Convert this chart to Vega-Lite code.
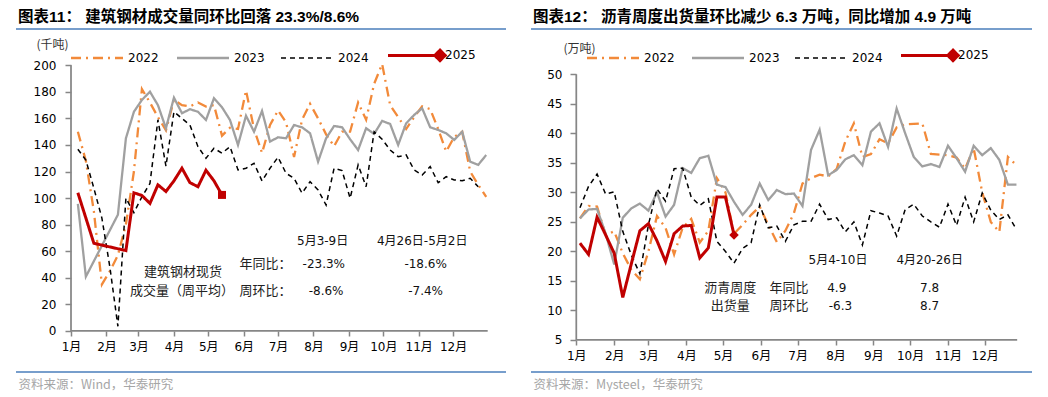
{
  "$schema": "https://vega.github.io/schema/vega-lite/v6.json",
  "background": "white",
  "padding": {"left": 15, "top": 9, "right": 0, "bottom": 0},
  "spacing": 23,
  "resolve": {"scale": {"color": "independent", "strokeDash": "independent"}, "legend": {"color": "independent", "strokeDash": "independent"}},
  "config": {"view": {"stroke": null}, "axis": {"grid": false, "labelOverlap": false}, "axisY": {"labelOverlap": false}, "axisQuantitative": {"labelOverlap": false}, "font": "DejaVu Sans"},
  "datasets": {
    "steel": [
      {"series":"2022","date":"2025-01-07","value":150},{"series":"2022","date":"2025-01-14","value":128},{"series":"2022","date":"2025-01-21","value":90},{"series":"2022","date":"2025-01-28","value":35},{"series":"2022","date":"2025-02-04","value":45},{"series":"2022","date":"2025-02-11","value":57},{"series":"2022","date":"2025-02-18","value":80},{"series":"2022","date":"2025-02-25","value":120},{"series":"2022","date":"2025-03-04","value":182},{"series":"2022","date":"2025-03-11","value":172},{"series":"2022","date":"2025-03-18","value":161},{"series":"2022","date":"2025-03-25","value":151},{"series":"2022","date":"2025-04-01","value":174},{"series":"2022","date":"2025-04-08","value":170},{"series":"2022","date":"2025-04-15","value":169},{"series":"2022","date":"2025-04-22","value":172},{"series":"2022","date":"2025-04-29","value":169},{"series":"2022","date":"2025-05-06","value":170},{"series":"2022","date":"2025-05-13","value":147},{"series":"2022","date":"2025-05-20","value":153},{"series":"2022","date":"2025-05-27","value":152},{"series":"2022","date":"2025-06-03","value":181},{"series":"2022","date":"2025-06-10","value":152},{"series":"2022","date":"2025-06-17","value":134},{"series":"2022","date":"2025-06-24","value":155},{"series":"2022","date":"2025-07-01","value":166},{"series":"2022","date":"2025-07-08","value":157},{"series":"2022","date":"2025-07-15","value":131},{"series":"2022","date":"2025-07-22","value":159},{"series":"2022","date":"2025-07-29","value":171},{"series":"2022","date":"2025-08-05","value":160},{"series":"2022","date":"2025-08-12","value":148},{"series":"2022","date":"2025-08-19","value":139},{"series":"2022","date":"2025-08-26","value":150},{"series":"2022","date":"2025-09-02","value":150},{"series":"2022","date":"2025-09-09","value":172},{"series":"2022","date":"2025-09-16","value":159},{"series":"2022","date":"2025-09-23","value":186},{"series":"2022","date":"2025-09-30","value":201},{"series":"2022","date":"2025-10-07","value":170},{"series":"2022","date":"2025-10-14","value":161},{"series":"2022","date":"2025-10-21","value":152},{"series":"2022","date":"2025-10-28","value":161},{"series":"2022","date":"2025-11-04","value":169},{"series":"2022","date":"2025-11-11","value":167},{"series":"2022","date":"2025-11-18","value":152},{"series":"2022","date":"2025-11-25","value":135},{"series":"2022","date":"2025-12-02","value":146},{"series":"2022","date":"2025-12-09","value":150},{"series":"2022","date":"2025-12-16","value":120},{"series":"2022","date":"2025-12-23","value":110},{"series":"2022","date":"2025-12-30","value":101},
      {"series":"2023","date":"2025-01-07","value":95.6},{"series":"2023","date":"2025-01-14","value":40.9},{"series":"2023","date":"2025-02-11","value":87.5},{"series":"2023","date":"2025-02-18","value":145},{"series":"2023","date":"2025-02-25","value":165},{"series":"2023","date":"2025-03-04","value":173.9},{"series":"2023","date":"2025-03-11","value":180.1},{"series":"2023","date":"2025-03-18","value":170},{"series":"2023","date":"2025-03-25","value":152.6},{"series":"2023","date":"2025-04-01","value":175.6},{"series":"2023","date":"2025-04-08","value":163.9},{"series":"2023","date":"2025-04-15","value":166.9},{"series":"2023","date":"2025-04-22","value":165},{"series":"2023","date":"2025-04-29","value":158.8},{"series":"2023","date":"2025-05-06","value":175.2},{"series":"2023","date":"2025-05-13","value":168.4},{"series":"2023","date":"2025-05-20","value":158.8},{"series":"2023","date":"2025-05-27","value":140},{"series":"2023","date":"2025-06-03","value":162},{"series":"2023","date":"2025-06-10","value":150},{"series":"2023","date":"2025-06-17","value":165.6},{"series":"2023","date":"2025-06-24","value":142.5},{"series":"2023","date":"2025-07-01","value":145.8},{"series":"2023","date":"2025-07-08","value":145},{"series":"2023","date":"2025-07-15","value":155},{"series":"2023","date":"2025-07-22","value":153.3},{"series":"2023","date":"2025-07-29","value":148.8},{"series":"2023","date":"2025-08-05","value":127.4},{"series":"2023","date":"2025-08-12","value":145},{"series":"2023","date":"2025-08-19","value":154.3},{"series":"2023","date":"2025-08-26","value":153.3},{"series":"2023","date":"2025-09-02","value":144.3},{"series":"2023","date":"2025-09-09","value":136.2},{"series":"2023","date":"2025-09-16","value":152.6},{"series":"2023","date":"2025-09-23","value":148.3},{"series":"2023","date":"2025-09-30","value":158.1},{"series":"2023","date":"2025-10-07","value":155.8},{"series":"2023","date":"2025-10-14","value":140},{"series":"2023","date":"2025-10-21","value":156.3},{"series":"2023","date":"2025-10-28","value":162.6},{"series":"2023","date":"2025-11-04","value":167.6},{"series":"2023","date":"2025-11-11","value":153.3},{"series":"2023","date":"2025-11-18","value":151.3},{"series":"2023","date":"2025-11-25","value":148.8},{"series":"2023","date":"2025-12-02","value":143.8},{"series":"2023","date":"2025-12-09","value":150},{"series":"2023","date":"2025-12-16","value":127.4},{"series":"2023","date":"2025-12-23","value":125},{"series":"2023","date":"2025-12-30","value":132.5},
      {"series":"2024","date":"2025-01-07","value":136.8},{"series":"2024","date":"2025-01-14","value":128.7},{"series":"2024","date":"2025-01-21","value":107.4},{"series":"2024","date":"2025-01-28","value":85},{"series":"2024","date":"2025-02-04","value":48},{"series":"2024","date":"2025-02-11","value":3.5},{"series":"2024","date":"2025-02-18","value":100},{"series":"2024","date":"2025-02-25","value":89},{"series":"2024","date":"2025-03-04","value":101},{"series":"2024","date":"2025-03-11","value":111},{"series":"2024","date":"2025-03-18","value":159},{"series":"2024","date":"2025-03-25","value":124},{"series":"2024","date":"2025-04-01","value":165},{"series":"2024","date":"2025-04-08","value":160},{"series":"2024","date":"2025-04-15","value":155},{"series":"2024","date":"2025-04-22","value":138.7},{"series":"2024","date":"2025-04-29","value":130},{"series":"2024","date":"2025-05-06","value":137.5},{"series":"2024","date":"2025-05-13","value":133.8},{"series":"2024","date":"2025-05-20","value":138.7},{"series":"2024","date":"2025-05-27","value":121.2},{"series":"2024","date":"2025-06-03","value":122.5},{"series":"2024","date":"2025-06-10","value":126.2},{"series":"2024","date":"2025-06-17","value":112.9},{"series":"2024","date":"2025-06-24","value":122.5},{"series":"2024","date":"2025-07-01","value":130.8},{"series":"2024","date":"2025-07-08","value":118.7},{"series":"2024","date":"2025-07-15","value":114.9},{"series":"2024","date":"2025-07-22","value":103.7},{"series":"2024","date":"2025-07-29","value":112.4},{"series":"2024","date":"2025-08-05","value":106.1},{"series":"2024","date":"2025-08-12","value":94.8},{"series":"2024","date":"2025-08-19","value":122.5},{"series":"2024","date":"2025-08-26","value":120.7},{"series":"2024","date":"2025-09-02","value":99.9},{"series":"2024","date":"2025-09-09","value":125},{"series":"2024","date":"2025-09-16","value":108.6},{"series":"2024","date":"2025-09-23","value":150},{"series":"2024","date":"2025-09-30","value":144.3},{"series":"2024","date":"2025-10-07","value":136.2},{"series":"2024","date":"2025-10-14","value":131.2},{"series":"2024","date":"2025-10-21","value":132.5},{"series":"2024","date":"2025-10-28","value":121.2},{"series":"2024","date":"2025-11-04","value":117.4},{"series":"2024","date":"2025-11-11","value":123.7},{"series":"2024","date":"2025-11-18","value":111.6},{"series":"2024","date":"2025-11-25","value":116.1},{"series":"2024","date":"2025-12-02","value":113.7},{"series":"2024","date":"2025-12-09","value":113.1},{"series":"2024","date":"2025-12-16","value":114.9},{"series":"2024","date":"2025-12-23","value":108.6},
      {"series":"2025","date":"2025-01-07","value":104},{"series":"2025","date":"2025-01-21","value":66},{"series":"2025","date":"2025-02-18","value":60.5},{"series":"2025","date":"2025-02-25","value":104},{"series":"2025","date":"2025-03-04","value":102},{"series":"2025","date":"2025-03-11","value":96},{"series":"2025","date":"2025-03-18","value":110},{"series":"2025","date":"2025-03-25","value":105},{"series":"2025","date":"2025-04-01","value":113},{"series":"2025","date":"2025-04-08","value":122.5},{"series":"2025","date":"2025-04-15","value":111.6},{"series":"2025","date":"2025-04-22","value":108.6},{"series":"2025","date":"2025-04-29","value":121},{"series":"2025","date":"2025-05-06","value":113},{"series":"2025","date":"2025-05-13","value":102.4}
    ],
    "asphalt": [
      {"series":"2022","date":"2025-01-04","value":25.6},{"series":"2022","date":"2025-01-11","value":27.7},{"series":"2022","date":"2025-01-18","value":27.6},{"series":"2022","date":"2025-01-25","value":22.8},{"series":"2022","date":"2025-02-01","value":23.4},{"series":"2022","date":"2025-02-08","value":19.7},{"series":"2022","date":"2025-02-15","value":16.9},{"series":"2022","date":"2025-02-22","value":15.3},{"series":"2022","date":"2025-03-01","value":20},{"series":"2022","date":"2025-03-08","value":26},{"series":"2022","date":"2025-03-15","value":24},{"series":"2022","date":"2025-03-22","value":19.5},{"series":"2022","date":"2025-03-29","value":24},{"series":"2022","date":"2025-04-05","value":25.5},{"series":"2022","date":"2025-04-12","value":21.5},{"series":"2022","date":"2025-04-19","value":23.5},{"series":"2022","date":"2025-04-26","value":32.4},{"series":"2022","date":"2025-05-03","value":30},{"series":"2022","date":"2025-05-10","value":23},{"series":"2022","date":"2025-05-17","value":24.5},{"series":"2022","date":"2025-05-24","value":26.2},{"series":"2022","date":"2025-05-31","value":27.6},{"series":"2022","date":"2025-06-07","value":24.5},{"series":"2022","date":"2025-06-14","value":21.6},{"series":"2022","date":"2025-06-21","value":23.5},{"series":"2022","date":"2025-06-28","value":26.5},{"series":"2022","date":"2025-07-05","value":31.5},{"series":"2022","date":"2025-07-12","value":32.4},{"series":"2022","date":"2025-07-19","value":33},{"series":"2022","date":"2025-07-26","value":32.7},{"series":"2022","date":"2025-08-02","value":34},{"series":"2022","date":"2025-08-09","value":38.6},{"series":"2022","date":"2025-08-16","value":41.7},{"series":"2022","date":"2025-08-23","value":36},{"series":"2022","date":"2025-08-30","value":36.5},{"series":"2022","date":"2025-09-06","value":39},{"series":"2022","date":"2025-09-13","value":38.3},{"series":"2022","date":"2025-09-20","value":41},{"series":"2022","date":"2025-09-27","value":41.5},{"series":"2022","date":"2025-10-04","value":41.6},{"series":"2022","date":"2025-10-11","value":41.7},{"series":"2022","date":"2025-10-18","value":36.5},{"series":"2022","date":"2025-10-25","value":36.4},{"series":"2022","date":"2025-11-01","value":36.3},{"series":"2022","date":"2025-11-08","value":35.9},{"series":"2022","date":"2025-11-15","value":34},{"series":"2022","date":"2025-11-22","value":37.5},{"series":"2022","date":"2025-11-29","value":30},{"series":"2022","date":"2025-12-06","value":25},{"series":"2022","date":"2025-12-13","value":23.3},{"series":"2022","date":"2025-12-20","value":36},{"series":"2022","date":"2025-12-27","value":34.6},
      {"series":"2023","date":"2025-01-04","value":25.6},{"series":"2023","date":"2025-01-11","value":27.1},{"series":"2023","date":"2025-01-18","value":27.2},{"series":"2023","date":"2025-01-25","value":23},{"series":"2023","date":"2025-02-01","value":17.8},{"series":"2023","date":"2025-02-08","value":25.7},{"series":"2023","date":"2025-02-15","value":27.3},{"series":"2023","date":"2025-02-22","value":28.1},{"series":"2023","date":"2025-03-01","value":26.9},{"series":"2023","date":"2025-03-08","value":30},{"series":"2023","date":"2025-03-15","value":25.9},{"series":"2023","date":"2025-03-22","value":27.9},{"series":"2023","date":"2025-03-29","value":34.1},{"series":"2023","date":"2025-04-05","value":33.3},{"series":"2023","date":"2025-04-12","value":35.8},{"series":"2023","date":"2025-04-19","value":36.2},{"series":"2023","date":"2025-04-26","value":31.3},{"series":"2023","date":"2025-05-03","value":30.9},{"series":"2023","date":"2025-05-10","value":28.4},{"series":"2023","date":"2025-05-17","value":26.2},{"series":"2023","date":"2025-05-24","value":27.9},{"series":"2023","date":"2025-05-31","value":31.5},{"series":"2023","date":"2025-06-07","value":28.7},{"series":"2023","date":"2025-06-14","value":30.4},{"series":"2023","date":"2025-06-21","value":29.7},{"series":"2023","date":"2025-06-28","value":29.8},{"series":"2023","date":"2025-07-05","value":27.7},{"series":"2023","date":"2025-07-12","value":37.2},{"series":"2023","date":"2025-07-19","value":40.6},{"series":"2023","date":"2025-07-26","value":32.9},{"series":"2023","date":"2025-08-02","value":33.8},{"series":"2023","date":"2025-08-09","value":35.6},{"series":"2023","date":"2025-08-16","value":36.3},{"series":"2023","date":"2025-08-23","value":34.6},{"series":"2023","date":"2025-08-30","value":40.3},{"series":"2023","date":"2025-09-06","value":41.7},{"series":"2023","date":"2025-09-13","value":37.7},{"series":"2023","date":"2025-09-20","value":44.2},{"series":"2023","date":"2025-09-27","value":40},{"series":"2023","date":"2025-10-04","value":36},{"series":"2023","date":"2025-10-11","value":34.4},{"series":"2023","date":"2025-10-18","value":34.8},{"series":"2023","date":"2025-10-25","value":34.3},{"series":"2023","date":"2025-11-01","value":37.9},{"series":"2023","date":"2025-11-08","value":35.8},{"series":"2023","date":"2025-11-15","value":33.5},{"series":"2023","date":"2025-11-22","value":37.9},{"series":"2023","date":"2025-11-29","value":36.3},{"series":"2023","date":"2025-12-06","value":37.5},{"series":"2023","date":"2025-12-13","value":35.5},{"series":"2023","date":"2025-12-20","value":31.3},{"series":"2023","date":"2025-12-27","value":31.3},
      {"series":"2024","date":"2025-01-04","value":27.4},{"series":"2024","date":"2025-01-11","value":31},{"series":"2024","date":"2025-01-18","value":33.1},{"series":"2024","date":"2025-01-25","value":29.7},{"series":"2024","date":"2025-02-01","value":30.1},{"series":"2024","date":"2025-02-08","value":23.4},{"series":"2024","date":"2025-02-15","value":19.4},{"series":"2024","date":"2025-02-22","value":16.2},{"series":"2024","date":"2025-03-01","value":24.5},{"series":"2024","date":"2025-03-08","value":30.6},{"series":"2024","date":"2025-03-15","value":28.5},{"series":"2024","date":"2025-03-22","value":34},{"series":"2024","date":"2025-03-29","value":34.1},{"series":"2024","date":"2025-04-05","value":29.2},{"series":"2024","date":"2025-04-12","value":27.8},{"series":"2024","date":"2025-04-19","value":28.9},{"series":"2024","date":"2025-04-26","value":21.7},{"series":"2024","date":"2025-05-03","value":20},{"series":"2024","date":"2025-05-10","value":18},{"series":"2024","date":"2025-05-17","value":20.5},{"series":"2024","date":"2025-05-24","value":21.5},{"series":"2024","date":"2025-05-31","value":27.9},{"series":"2024","date":"2025-06-07","value":24},{"series":"2024","date":"2025-06-14","value":24.3},{"series":"2024","date":"2025-06-21","value":21.7},{"series":"2024","date":"2025-06-28","value":24.5},{"series":"2024","date":"2025-07-05","value":25.1},{"series":"2024","date":"2025-07-12","value":25.1},{"series":"2024","date":"2025-07-19","value":28},{"series":"2024","date":"2025-07-26","value":25.4},{"series":"2024","date":"2025-08-02","value":25.7},{"series":"2024","date":"2025-08-09","value":23.3},{"series":"2024","date":"2025-08-16","value":25},{"series":"2024","date":"2025-08-23","value":21.1},{"series":"2024","date":"2025-08-30","value":26.9},{"series":"2024","date":"2025-09-06","value":26.5},{"series":"2024","date":"2025-09-13","value":26},{"series":"2024","date":"2025-09-20","value":22.6},{"series":"2024","date":"2025-09-27","value":27.1},{"series":"2024","date":"2025-10-04","value":28},{"series":"2024","date":"2025-10-11","value":26},{"series":"2024","date":"2025-10-18","value":25},{"series":"2024","date":"2025-10-25","value":24.1},{"series":"2024","date":"2025-11-01","value":28},{"series":"2024","date":"2025-11-08","value":24.4},{"series":"2024","date":"2025-11-15","value":29.2},{"series":"2024","date":"2025-11-22","value":25},{"series":"2024","date":"2025-11-29","value":29.9},{"series":"2024","date":"2025-12-06","value":27},{"series":"2024","date":"2025-12-13","value":25.4},{"series":"2024","date":"2025-12-20","value":26.2},{"series":"2024","date":"2025-12-27","value":23.7},
      {"series":"2025","date":"2025-01-04","value":21.4},{"series":"2025","date":"2025-01-11","value":19.5},{"series":"2025","date":"2025-01-18","value":25.8},{"series":"2025","date":"2025-01-25","value":22.8},{"series":"2025","date":"2025-02-01","value":19.7},{"series":"2025","date":"2025-02-08","value":12.2},{"series":"2025","date":"2025-02-15","value":17.9},{"series":"2025","date":"2025-02-22","value":23.5},{"series":"2025","date":"2025-03-01","value":24.7},{"series":"2025","date":"2025-03-08","value":21.8},{"series":"2025","date":"2025-03-15","value":18.3},{"series":"2025","date":"2025-03-22","value":23},{"series":"2025","date":"2025-03-29","value":24.3},{"series":"2025","date":"2025-04-05","value":24.4},{"series":"2025","date":"2025-04-12","value":18.9},{"series":"2025","date":"2025-04-19","value":20.6},{"series":"2025","date":"2025-04-26","value":29.2},{"series":"2025","date":"2025-05-03","value":29.2},{"series":"2025","date":"2025-05-10","value":22.8}
    ]
  },
  "hconcat": [
    {
      "width": 490,
      "height": 343,
      "title": {"text": "图表11：  建筑钢材成交量同环比回落 23.3%/8.6%", "anchor": "start", "frame": "group", "dx": 2, "offset": -4, "baseline": "middle", "font": "Liberation Sans, Noto Sans CJK SC", "fontSize": 15.5, "fontWeight": "bold", "color": "#000000"},
      "layer": [
        {
          "data": {"name": "steel"},
          "mark": {"type": "line"},
          "encoding": {
            "x": {
              "field": "date", "type": "temporal",
              "scale": {"type": "utc", "domain": [{"year": 2024, "month": 11, "date": 13, "hours": 22, "utc": true}, {"year": 2026, "month": 1, "date": 16, "hours": 7, "utc": true}], "nice": false},
              "axis": {
                "values": [{"year":2025,"month":1,"date":1,"utc":true},{"year":2025,"month":2,"date":1,"utc":true},{"year":2025,"month":3,"date":1,"utc":true},{"year":2025,"month":4,"date":1,"utc":true},{"year":2025,"month":5,"date":1,"utc":true},{"year":2025,"month":6,"date":1,"utc":true},{"year":2025,"month":7,"date":1,"utc":true},{"year":2025,"month":8,"date":1,"utc":true},{"year":2025,"month":9,"date":1,"utc":true},{"year":2025,"month":10,"date":1,"utc":true},{"year":2025,"month":11,"date":1,"utc":true},{"year":2025,"month":12,"date":1,"utc":true}],
                "format": "%-m月", "offset": -41, "domain": false, "grid": false,
                "tickSize": 5, "tickColor": "#868686", "tickWidth": 1.5,
                "labelFont": "DejaVu Sans, Noto Sans CJK SC", "labelFontSize": 12, "labelColor": "#000000", "labelPadding": 5, "labelFlush": false, "labelOverlap": false,
                "title": "资料来源：Wind，华泰研究", "titleX": 2, "titleY": 53, "titleAlign": "left", "titleBaseline": "middle", "titleAngle": 0,
                "titleFont": "Noto Sans CJK SC", "titleFontSize": 12.5, "titleFontWeight": "normal", "titleColor": "#A6A6A6"
              }
            },
            "y": {
              "field": "value", "type": "quantitative",
              "scale": {"domain": [-30.9, 227.3], "nice": false, "zero": false},
              "axis": {
                "values": [0, 20, 40, 60, 80, 100, 120, 140, 160, 180, 200], "tickCount": 11,
                "offset": -55, "domain": false, "grid": false,
                "tickSize": 6, "tickColor": "#868686", "tickWidth": 1.5,
                "labelFont": "DejaVu Sans", "labelFontSize": 12, "labelColor": "#000000", "labelPadding": 9, "labelOverlap": false, "labelFlush": false,
                "title": "(千吨)", "titleAngle": 0, "titleX": -35, "titleY": 15, "titleAlign": "left", "titleBaseline": "middle",
                "titleFont": "Noto Sans CJK SC", "titleFontSize": 12, "titleFontWeight": "normal", "titleColor": "#333333"
              }
            },
            "color": {
              "field": "series", "type": "nominal",
              "scale": {"domain": ["2022", "2023", "2024", "2025"], "range": ["#F28A3A", "#A0A0A0", "#000000", "#C00000"]},
              "legend": {
                "orient": "none", "legendX": 75, "legendY": 20, "direction": "horizontal", "columns": 4, "title": null,
                "symbolSize": 2704, "labelOffset": 25, "columnPadding": 13, "padding": 0,
                "labelFont": "DejaVu Sans", "labelFontSize": 12, "labelColor": "#000000",
                "encode": {"symbols": {"update": {
                  "shape": {"signal": "datum.value === '2025' ? 'M-1,0H1M1,-0.2L1.2,0L1,0.2L0.8,0Z' : 'M-1,0H1'"},
                  "fill": {"signal": "datum.value === '2025' ? '#C00000' : 'transparent'"},
                  "strokeDash": {"signal": "datum.value === '2022' ? [10,5,2,5] : datum.value === '2024' ? [5,4] : [1,0]"},
                  "strokeWidth": {"signal": "datum.value === '2024' ? 1.5 : datum.value === '2025' ? 3 : 2.5"}
                }}}
              }
            },
            "strokeDash": {
              "field": "series", "type": "nominal",
              "scale": {"domain": ["2022", "2023", "2024", "2025"], "range": [[10, 5, 2, 5], [1, 0], [5, 4], [1, 0]]},
              "legend": null
            },
            "strokeWidth": {"condition": [{"test": "datum.series === '2025'", "value": 3}, {"test": "datum.series === '2024'", "value": 1.5}], "value": 2.3}
          }
        },
        {
          "data": {"values": [{}]},
          "mark": {"type": "rule", "color": "#4A7EBB", "strokeWidth": 1.5},
          "encoding": {
            "x": {"datum": {"year": 2024, "month": 11, "date": 13, "hours": 22, "utc": true}, "type": "temporal"},
            "x2": {"datum": {"year": 2026, "month": 1, "date": 16, "hours": 7, "utc": true}},
            "y": {"datum": 227.3, "type": "quantitative"}
          }
        },
        {
          "data": {"values": [{}]},
          "mark": {"type": "rule", "color": "#4A7EBB", "strokeWidth": 1.5},
          "encoding": {
            "x": {"datum": {"year": 2024, "month": 11, "date": 13, "hours": 22, "utc": true}, "type": "temporal"},
            "x2": {"datum": {"year": 2026, "month": 1, "date": 16, "hours": 7, "utc": true}},
            "y": {"datum": -30.9, "type": "quantitative"}
          }
        },
        {
          "data": {"values": [{}]},
          "mark": {"type": "rule", "color": "#868686", "strokeWidth": 1.75},
          "encoding": {
            "x": {"datum": {"year": 2025, "month": 1, "date": 1, "utc": true}, "type": "temporal"},
            "y": {"datum": 0, "type": "quantitative"},
            "y2": {"datum": 200}
          }
        },
        {
          "data": {"values": [{}]},
          "mark": {"type": "rule", "color": "#868686", "strokeWidth": 1.75},
          "encoding": {
            "x": {"datum": {"year": 2025, "month": 1, "date": 1, "utc": true}, "type": "temporal"},
            "x2": {"datum": {"year": 2025, "month": 12, "date": 31, "hours": 7, "utc": true}},
            "y": {"datum": 0, "type": "quantitative"}
          }
        },
        {
          "data": {"name": "steel"},
          "transform": [
            {"filter": "datum.series === '2025'"},
            {"window": [{"op": "row_number", "as": "rn"}], "sort": [{"field": "date", "order": "descending"}]},
            {"filter": "datum.rn === 1"}
          ],
          "mark": {"type": "point", "shape": "square", "filled": true, "size": 64, "color": "#C00000", "opacity": 1},
          "encoding": {
            "x": {"field": "date", "type": "temporal"},
            "y": {"field": "value", "type": "quantitative"}
          }
        },
        {
          "data": {"values": [
            {"label": "建筑钢材现货", "date": "2025-04-09", "value": 44.6},
            {"label": "成交量（周平均）", "date": "2025-04-08", "value": 30.3},
            {"label": "年同比：", "date": "2025-06-20", "value": 50.4},
            {"label": "周环比：", "date": "2025-06-20", "value": 30.3}
          ]},
          "mark": {"type": "text", "align": "center", "baseline": "middle", "font": "Noto Sans CJK SC", "fontSize": 13, "color": "#222222"},
          "encoding": {
            "x": {"field": "date", "type": "temporal"},
            "y": {"field": "value", "type": "quantitative"},
            "text": {"field": "label"}
          }
        },
        {
          "data": {"values": [
            {"label": "5月3-9日", "date": "2025-08-09", "value": 68},
            {"label": "4月26日-5月2日", "date": "2025-11-04", "value": 68},
            {"label": "-23.3%", "date": "2025-08-10", "value": 50.4},
            {"label": "-8.6%", "date": "2025-08-12", "value": 30.1},
            {"label": "-18.6%", "date": "2025-11-07", "value": 50.4},
            {"label": "-7.4%", "date": "2025-11-07", "value": 30.1}
          ]},
          "mark": {"type": "text", "align": "center", "baseline": "middle", "font": "DejaVu Sans, Noto Sans CJK SC", "fontSize": 12, "color": "#111111"},
          "encoding": {
            "x": {"field": "date", "type": "temporal"},
            "y": {"field": "value", "type": "quantitative"},
            "text": {"field": "label"}
          }
        }
      ]
    },
    {
      "width": 501,
      "height": 343,
      "title": {"text": "图表12：  沥青周度出货量环比减少 6.3 万吨，同比增加 4.9 万吨", "anchor": "start", "frame": "group", "dx": 2, "offset": -4, "baseline": "middle", "font": "Liberation Sans, Noto Sans CJK SC", "fontSize": 15.5, "fontWeight": "bold", "color": "#000000"},
      "layer": [
        {
          "data": {"name": "asphalt"},
          "mark": {"type": "line"},
          "encoding": {
            "x": {
              "field": "date", "type": "temporal",
              "scale": {"type": "utc", "domain": [{"year": 2024, "month": 11, "date": 24, "hours": 23, "utc": true}, {"year": 2026, "month": 1, "date": 8, "hours": 17, "utc": true}], "nice": false},
              "axis": {
                "values": [{"year":2025,"month":1,"date":1,"utc":true},{"year":2025,"month":2,"date":1,"utc":true},{"year":2025,"month":3,"date":1,"utc":true},{"year":2025,"month":4,"date":1,"utc":true},{"year":2025,"month":5,"date":1,"utc":true},{"year":2025,"month":6,"date":1,"utc":true},{"year":2025,"month":7,"date":1,"utc":true},{"year":2025,"month":8,"date":1,"utc":true},{"year":2025,"month":9,"date":1,"utc":true},{"year":2025,"month":10,"date":1,"utc":true},{"year":2025,"month":11,"date":1,"utc":true},{"year":2025,"month":12,"date":1,"utc":true}],
                "format": "%-m月", "offset": -32, "domain": false, "grid": false,
                "tickSize": 5, "tickColor": "#868686", "tickWidth": 1.5,
                "labelFont": "DejaVu Sans, Noto Sans CJK SC", "labelFontSize": 12, "labelColor": "#000000", "labelPadding": 5, "labelFlush": false, "labelOverlap": false,
                "title": "资料来源：Mysteel，华泰研究", "titleX": 2, "titleY": 44, "titleAlign": "left", "titleBaseline": "middle", "titleAngle": 0,
                "titleFont": "Noto Sans CJK SC", "titleFontSize": 12.5, "titleFontWeight": "normal", "titleColor": "#A6A6A6"
              }
            },
            "y": {
              "field": "value", "type": "quantitative",
              "scale": {"domain": [-0.42, 57.67], "nice": false, "zero": false},
              "axis": {
                "values": [5, 10, 15, 20, 25, 30, 35, 40, 45, 50], "tickCount": 10,
                "offset": -45, "domain": false, "grid": false,
                "tickSize": 6, "tickColor": "#868686", "tickWidth": 1.5,
                "labelFont": "DejaVu Sans", "labelFontSize": 12, "labelColor": "#000000", "labelPadding": 8, "labelOverlap": false, "labelFlush": false,
                "title": "(万吨)", "titleAngle": 0, "titleX": -13, "titleY": 19, "titleAlign": "left", "titleBaseline": "middle",
                "titleFont": "Noto Sans CJK SC", "titleFontSize": 12, "titleFontWeight": "normal", "titleColor": "#333333"
              }
            },
            "color": {
              "field": "series", "type": "nominal",
              "scale": {"domain": ["2022", "2023", "2024", "2025"], "range": ["#F28A3A", "#A0A0A0", "#000000", "#C00000"]},
              "legend": {
                "orient": "none", "legendX": 76, "legendY": 20, "direction": "horizontal", "columns": 4, "title": null,
                "symbolSize": 2704, "labelOffset": 25, "columnPadding": 12, "padding": 0,
                "labelFont": "DejaVu Sans", "labelFontSize": 12, "labelColor": "#000000",
                "encode": {"symbols": {"update": {
                  "shape": {"signal": "datum.value === '2025' ? 'M-1,0H1M1,-0.2L1.2,0L1,0.2L0.8,0Z' : 'M-1,0H1'"},
                  "fill": {"signal": "datum.value === '2025' ? '#C00000' : 'transparent'"},
                  "strokeDash": {"signal": "datum.value === '2022' ? [10,5,2,5] : datum.value === '2024' ? [5,4] : [1,0]"},
                  "strokeWidth": {"signal": "datum.value === '2024' ? 1.5 : datum.value === '2025' ? 3 : 2.5"}
                }}}
              }
            },
            "strokeDash": {
              "field": "series", "type": "nominal",
              "scale": {"domain": ["2022", "2023", "2024", "2025"], "range": [[10, 5, 2, 5], [1, 0], [5, 4], [1, 0]]},
              "legend": null
            },
            "strokeWidth": {"condition": [{"test": "datum.series === '2025'", "value": 3}, {"test": "datum.series === '2024'", "value": 1.5}], "value": 2.3}
          }
        },
        {
          "data": {"values": [{}]},
          "mark": {"type": "rule", "color": "#4A7EBB", "strokeWidth": 1.5},
          "encoding": {
            "x": {"datum": {"year": 2024, "month": 11, "date": 24, "hours": 23, "utc": true}, "type": "temporal"},
            "x2": {"datum": {"year": 2026, "month": 1, "date": 8, "hours": 17, "utc": true}},
            "y": {"datum": 57.67, "type": "quantitative"}
          }
        },
        {
          "data": {"values": [{}]},
          "mark": {"type": "rule", "color": "#4A7EBB", "strokeWidth": 1.5},
          "encoding": {
            "x": {"datum": {"year": 2024, "month": 11, "date": 24, "hours": 23, "utc": true}, "type": "temporal"},
            "x2": {"datum": {"year": 2026, "month": 1, "date": 8, "hours": 17, "utc": true}},
            "y": {"datum": -0.42, "type": "quantitative"}
          }
        },
        {
          "data": {"values": [{}]},
          "mark": {"type": "rule", "color": "#868686", "strokeWidth": 1.75},
          "encoding": {
            "x": {"datum": {"year": 2025, "month": 1, "date": 1, "utc": true}, "type": "temporal"},
            "y": {"datum": 5, "type": "quantitative"},
            "y2": {"datum": 50}
          }
        },
        {
          "data": {"values": [{}]},
          "mark": {"type": "rule", "color": "#868686", "strokeWidth": 1.75},
          "encoding": {
            "x": {"datum": {"year": 2025, "month": 1, "date": 1, "utc": true}, "type": "temporal"},
            "x2": {"datum": {"year": 2025, "month": 12, "date": 27, "hours": 14, "utc": true}},
            "y": {"datum": 5, "type": "quantitative"}
          }
        },
        {
          "data": {"name": "asphalt"},
          "transform": [
            {"filter": "datum.series === '2025'"},
            {"window": [{"op": "row_number", "as": "rn"}], "sort": [{"field": "date", "order": "descending"}]},
            {"filter": "datum.rn === 1"}
          ],
          "mark": {"type": "point", "shape": "diamond", "filled": true, "size": 90, "color": "#C00000", "opacity": 1},
          "encoding": {
            "x": {"field": "date", "type": "temporal"},
            "y": {"field": "value", "type": "quantitative"}
          }
        },
        {
          "data": {"values": [
            {"label": "沥青周度", "date": "2025-05-07", "value": 13.86},
            {"label": "出货量", "date": "2025-05-07", "value": 10.76},
            {"label": "年同比", "date": "2025-06-24", "value": 13.86},
            {"label": "周环比", "date": "2025-06-24", "value": 10.76}
          ]},
          "mark": {"type": "text", "align": "center", "baseline": "middle", "font": "Noto Sans CJK SC", "fontSize": 13, "color": "#222222"},
          "encoding": {
            "x": {"field": "date", "type": "temporal"},
            "y": {"field": "value", "type": "quantitative"},
            "text": {"field": "label"}
          }
        },
        {
          "data": {"values": [
            {"label": "5月4-10日", "date": "2025-08-03", "value": 18.55},
            {"label": "4月20-26日", "date": "2025-10-17", "value": 18.55},
            {"label": "4.9", "date": "2025-08-02", "value": 13.86},
            {"label": "-6.3", "date": "2025-08-05", "value": 10.76},
            {"label": "7.8", "date": "2025-10-17", "value": 13.86},
            {"label": "8.7", "date": "2025-10-17", "value": 10.76}
          ]},
          "mark": {"type": "text", "align": "center", "baseline": "middle", "font": "DejaVu Sans, Noto Sans CJK SC", "fontSize": 12, "color": "#111111"},
          "encoding": {
            "x": {"field": "date", "type": "temporal"},
            "y": {"field": "value", "type": "quantitative"},
            "text": {"field": "label"}
          }
        }
      ]
    }
  ]
}
